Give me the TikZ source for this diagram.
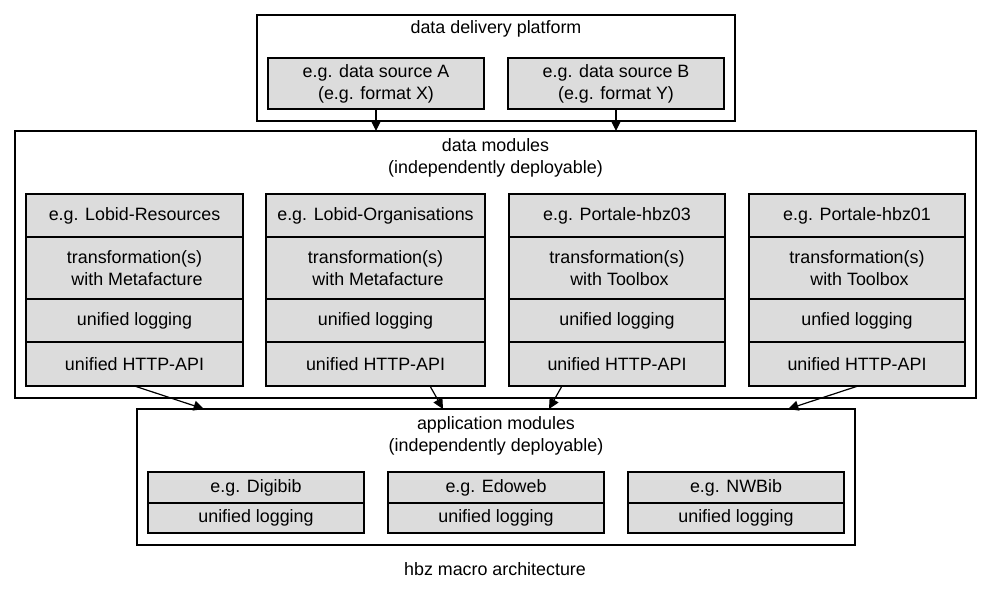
\documentclass[tikz,border=0pt]{standalone}
\usepackage{fontspec}
\setmainfont{Liberation Sans}
\usetikzlibrary{arrows.meta,calc}
\definecolor{cellgray}{HTML}{DCDCDC}
\begin{document}
\begin{tikzpicture}[x=0.75pt,y=-0.75pt,
  base/.style={inner sep=0pt, outer sep=0pt, line width=0.9pt, draw=black},
  span/.style n args={4}{minimum width={(#3-#1)*0.75pt}, minimum height={(#4-#2)*0.75pt}, at={(#1/2+#3/2,#2/2+#4/2)}},
  cluster/.style={base},
  cell/.style={base, fill=cellgray, align=center, font=\fontsize{13.4}{16.5}\selectfont},
  lbl/.style={inner sep=0pt, outer sep=0pt, align=center, font=\fontsize{13.4}{16.5}\selectfont},
  arr/.style={line width=0.9pt, draw=black, -{Triangle[length=7.8pt,width=7.5pt]}}]
\useasboundingbox (0,0) rectangle (992,592);
% clusters
\node[cluster, span={257}{15}{735}{121}] (ddp) {};
\node[cluster, span={15}{131}{976}{398}] (dm) {};
\node[cluster, span={137}{409}{855}{545}] (am) {};
\node[lbl] (ddpl) at (496,29) {data delivery platform};
\node[lbl] (dml) at (495.5,158) {data modules\\(independently deployable)};
\node[lbl] (aml) at (496,436) {application modules\\(independently deployable)};
\node[lbl] (title) at (495,569) {hbz macro architecture};
% sources
\node[cell, span={268}{58}{484}{109}] (srcA) {e.g. data source A\\(e.g. format X)};
\node[cell, span={508}{58}{724}{109}] (srcB) {e.g. data source B\\(e.g. format Y)};
% data modules
\node[cell, span={26}{194}{243}{237}] (lr1) {e.g. Lobid-Resources};
\node[cell, span={26}{237}{243}{299}] (lr2) {transformation(s)\\\hspace*{.28em}with Metafacture};
\node[cell, span={26}{299}{243}{342}] (lr3) {unified logging};
\node[cell, span={26}{342}{243}{386}] (lr4) {unified HTTP-API};
\node[cell, span={266}{194}{485}{237}] (lo1) {e.g. Lobid-Organisations};
\node[cell, span={266}{237}{485}{299}] (lo2) {transformation(s)\\\hspace*{.28em}with Metafacture};
\node[cell, span={266}{299}{485}{342}] (lo3) {unified logging};
\node[cell, span={266}{342}{485}{386}] (lo4) {unified HTTP-API};
\node[cell, span={509}{194}{725}{237}] (pa1) {e.g. Portale-hbz03};
\node[cell, span={509}{237}{725}{299}] (pa2) {transformation(s)\\\hspace*{.28em}with Toolbox};
\node[cell, span={509}{299}{725}{342}] (pa3) {unified logging};
\node[cell, span={509}{342}{725}{386}] (pa4) {unified HTTP-API};
\node[cell, span={749}{194}{965}{237}] (pb1) {e.g. Portale-hbz01};
\node[cell, span={749}{237}{965}{299}] (pb2) {transformation(s)\\\hspace*{.28em}with Toolbox};
\node[cell, span={749}{299}{965}{342}] (pb3) {unfied logging};
\node[cell, span={749}{342}{965}{386}] (pb4) {unified HTTP-API};
% application modules
\node[cell, span={148}{472}{364}{503}] (dg1) {e.g. Digibib};
\node[cell, span={148}{503}{364}{533}] (dg2) {unified logging};
\node[cell, span={388}{472}{604}{503}] (ed1) {e.g. Edoweb};
\node[cell, span={388}{503}{604}{533}] (ed2) {unified logging};
\node[cell, span={628}{472}{844}{503}] (nw1) {e.g. NWBib};
\node[cell, span={628}{503}{844}{533}] (nw2) {unified logging};
% connectors
\draw[arr] (srcA.south) -- (srcA.south |- dm.north);
\draw[arr] (srcB.south) -- (srcB.south |- dm.north);
\coordinate (t1) at (204,409);
\coordinate (t2) at (443,409);
\coordinate (t3) at (549,409);
\coordinate (t4) at (788,409);
\draw[arr] (lr4.south) -- (t1);
\draw[arr] ($(lo4.south)+(54.5,0)$) -- (t2);
\draw[arr] ($(pa4.south)+(-55,0)$) -- (t3);
\draw[arr] ($(pb4.south)+(1,0)$) -- (t4);
\end{tikzpicture}
\end{document}
